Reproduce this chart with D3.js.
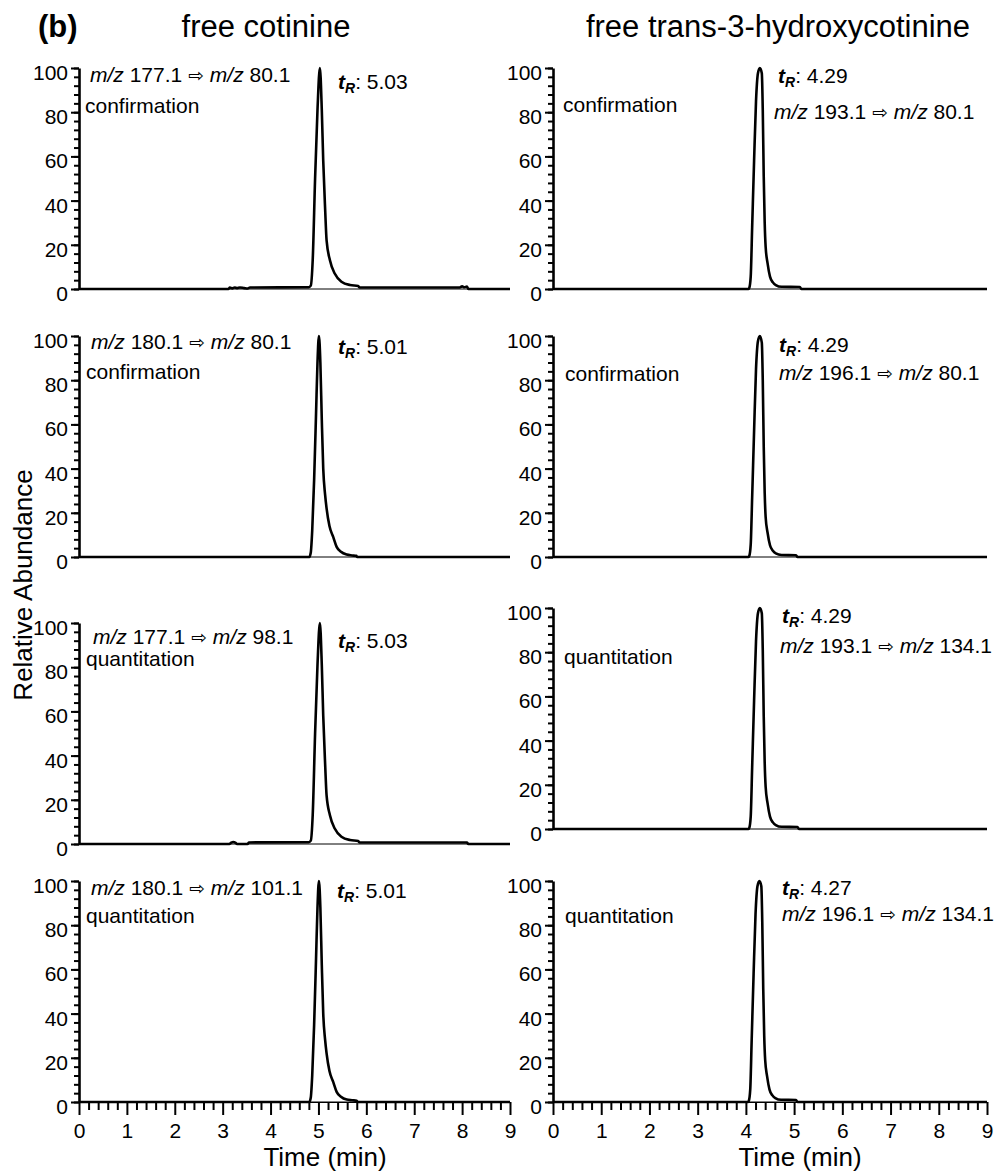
<!DOCTYPE html>
<html>
<head>
<meta charset="utf-8">
<script src="https://cdn.jsdelivr.net/npm/d3@7"></script>
<style>
  body { margin: 0; background: #fff; }
  svg text { font-family: "Liberation Sans", Arial, sans-serif; fill: #000; }
</style>
</head>
<body>
<svg id="chart"></svg>
<script>
// Chromatogram traces: [time (min), relative abundance (%)]
const cot177to80 = [[0,0],[3.12,0],[3.15,0.6],[3.2,0.3],[3.25,0.7],[3.3,0.4],[3.36,0.7],[3.45,0.4],[3.52,0.2],[3.57,0.7],[4.8,0.8],[4.84,1.5],[4.88,13],[4.93,50],[4.98,81],[5.03,100],[5.07,81],[5.1,58],[5.14,36],[5.17,22],[5.24,13],[5.34,7],[5.48,3.3],[5.66,1.8],[5.83,1.4],[5.86,0.7],[7.95,0.7],[8.0,1.2],[8.05,0.8],[8.1,1.1],[8.13,0],[9,0]];
const cot180to80 = [[0,0],[4.81,0],[4.84,2],[4.87,12],[4.91,35],[4.95,65],[4.98,88],[5.01,100],[5.04,88],[5.07,62],[5.1,40],[5.14,28],[5.17,22],[5.23,14],[5.31,9],[5.38,4.6],[5.47,2.4],[5.59,1.1],[5.7,0.7],[5.79,0.5],[5.81,0],[9,0]];
const cot177to98 = [[0,0],[3.14,0],[3.18,0.6],[3.22,0.9],[3.27,0.5],[3.3,0],[3.52,0],[3.55,0.7],[4.8,0.8],[4.84,1.5],[4.88,13],[4.93,50],[4.98,81],[5.03,100],[5.07,81],[5.1,58],[5.14,36],[5.17,22],[5.24,13],[5.34,7],[5.48,3.3],[5.66,1.8],[5.83,1.4],[5.86,0.7],[8.1,0.7],[8.13,0],[9,0]];
const cot180to101 = [[0,0],[4.81,0],[4.84,2],[4.87,12],[4.91,35],[4.95,65],[4.98,88],[5.01,100],[5.04,88],[5.07,62],[5.1,40],[5.14,28],[5.17,22],[5.23,14],[5.31,9],[5.38,4.6],[5.47,2.4],[5.59,1.1],[5.7,0.8],[5.8,0.6],[5.82,0],[9,0]];
const hc193to80 = [[0,0],[4.05,0],[4.07,0.5],[4.1,5.6],[4.13,28],[4.17,58],[4.21,85],[4.25,97.6],[4.29,100],[4.33,97.6],[4.35,81],[4.37,51],[4.39,30],[4.41,19],[4.45,11.6],[4.5,5.6],[4.56,3],[4.62,1.8],[4.74,1],[5.12,0.9],[5.15,0],[9,0]];
const hc196to80 = [[0,0],[4.05,0],[4.07,0.5],[4.1,5.6],[4.13,27],[4.17,57],[4.21,85],[4.25,97.6],[4.29,100],[4.33,97],[4.35,80],[4.37,50],[4.39,29],[4.41,18],[4.45,11],[4.5,5.3],[4.56,2.8],[4.62,1.6],[4.74,0.9],[5.04,0.8],[5.07,0],[9,0]];
const hc193to134 = [[0,0],[4.05,0],[4.07,0.5],[4.1,5.6],[4.13,28],[4.17,58],[4.21,85],[4.25,97.6],[4.29,100],[4.33,97.6],[4.35,81],[4.37,51],[4.39,30],[4.41,19],[4.45,11.6],[4.5,5.6],[4.56,3],[4.62,1.8],[4.74,1],[5.07,0.9],[5.1,0],[9,0]];
const hc196to134 = [[0,0],[4.04,0],[4.06,0.5],[4.09,5.6],[4.12,28],[4.16,58],[4.2,85],[4.24,97.6],[4.28,100],[4.32,97.6],[4.34,81],[4.36,51],[4.38,30],[4.4,19],[4.44,11.6],[4.49,5.6],[4.55,3],[4.61,1.8],[4.73,1],[5.04,0.9],[5.07,0],[9,0]];

const traces = [cot177to80, cot180to80, cot177to98, cot180to101, hc193to80, hc196to80, hc193to134, hc196to134];
const precursorIons = ["177.1", "180.1", "177.1", "180.1", "193.1", "196.1", "193.1", "196.1"];
const productIons = ["80.1", "80.1", "98.1", "101.1", "80.1", "80.1", "134.1", "134.1"];
const retentionTimes = ["5.03", "5.01", "5.03", "5.01", "4.29", "4.29", "4.29", "4.27"];
const modes = ["confirmation", "confirmation", "quantitation", "quantitation", "confirmation", "confirmation", "quantitation", "quantitation"];
const columnTitles = ["free cotinine", "free trans-3-hydroxycotinine"];
const timeTicks = [0, 1, 2, 3, 4, 5, 6, 7, 8, 9];
const abundanceTicks = [0, 20, 40, 60, 80, 100];

// Layout
const width = 1000;
const height = 1176;
const panelH = 221;
const colRange = [[79, 510], [553, 987]];
const rowTop = [[68, 336, 623, 881], [68, 336, 608, 881]];
const titleX = [266, 778];
const timeLabelX = [325, 800];
// annotation positions relative to panel top: [mzX, mzDy, modeX, modeDy, tRX, tRDy]
const labelPos = [
  [90, 14, 85, 45, 338, 21],
  [91, 13, 86, 43, 338, 18],
  [93, 21, 86, 43, 338, 25],
  [91, 14, 86, 42, 337, 17],
  [774, 51, 563, 44, 778, 15],
  [779, 44, 565, 45, 779, 16],
  [780, 45, 564, 56, 782, 15],
  [782, 40, 565, 42, 782, 14]
];

const svg = d3.select("#chart")
  .attr("width", width)
  .attr("height", height);

// Header
svg.append("text")
  .attr("x", 38).attr("y", 37)
  .attr("font-size", 31).attr("font-weight", "bold")
  .text("(b)");

svg.selectAll(".col-title")
  .data(columnTitles)
  .enter()
  .append("text")
  .attr("class", "col-title")
  .attr("x", (d, i) => titleX[i]).attr("y", 37)
  .attr("text-anchor", "middle")
  .attr("font-size", 31)
  .text(d => d);

svg.append("text")
  .attr("transform", "translate(32,585) rotate(-90)")
  .attr("text-anchor", "middle")
  .attr("font-size", 26)
  .text("Relative Abundance");

const line = d3.line().curve(d3.curveMonotoneX);

traces.forEach(function(trace, k) {
  const col = Math.floor(k / 4);
  const row = k % 4;
  const top = rowTop[col][row];

  const x = d3.scaleLinear().domain([0, 9]).range(colRange[col]);
  const y = d3.scaleLinear().domain([0, 100]).range([top + panelH, top]);

  const g = svg.append("g");

  // thin baseline
  g.append("line")
    .attr("x1", x(0)).attr("x2", x(9))
    .attr("y1", y(0)).attr("y2", y(0))
    .attr("stroke", "#000").attr("stroke-width", 1);

  // y axis: minor then major ticks
  const yMinor = g.append("g")
    .attr("transform", `translate(${x(0)},0)`)
    .call(d3.axisLeft(y).tickValues(d3.range(0, 101, 4)).tickSize(5).tickSizeOuter(0).tickFormat(""));
  yMinor.select(".domain").remove();
  yMinor.selectAll("line").attr("stroke-width", 2);

  const yAxis = g.append("g")
    .attr("transform", `translate(${x(0)},0)`)
    .call(d3.axisLeft(y).tickValues(abundanceTicks).tickSize(8).tickSizeOuter(0).tickPadding(3));
  yAxis.attr("font-size", 21).attr("font-family", null);
  yAxis.select(".domain").attr("stroke-width", 2.6);
  yAxis.selectAll(".tick line").attr("stroke-width", 2);
  yAxis.selectAll(".tick text").attr("dy", "0.55em");

  // x axis only on the bottom row
  if (row === 3) {
    const xMinor = g.append("g")
      .attr("transform", `translate(0,${y(0)})`)
      .call(d3.axisBottom(x).tickValues(d3.range(0, 46).map(i => i / 5).filter(v => v % 1 !== 0))
        .tickSize(8).tickSizeOuter(0).tickFormat(""));
    xMinor.select(".domain").remove();
    xMinor.selectAll("line").attr("stroke-width", 2);

    const xAxis = g.append("g")
      .attr("transform", `translate(0,${y(0)})`)
      .call(d3.axisBottom(x).tickValues(timeTicks).tickSize(13).tickSizeOuter(0).tickPadding(8).tickFormat(d3.format("d")));
    xAxis.attr("font-size", 21).attr("font-family", null);
    xAxis.select(".domain").attr("stroke-width", 1);
    xAxis.selectAll(".tick line").attr("stroke-width", 2);

    svg.append("text")
      .attr("x", timeLabelX[col]).attr("y", 1166)
      .attr("text-anchor", "middle")
      .attr("font-size", 26)
      .text("Time (min)");
  }

  // trace
  g.append("path")
    .attr("d", line(trace.map(p => [x(p[0]), y(p[1])])))
    .attr("fill", "none")
    .attr("stroke", "#000")
    .attr("stroke-width", 2.6)
    .attr("stroke-linejoin", "round");

  // annotations
  const pos = labelPos[k];
  const mz = g.append("text")
    .attr("x", pos[0]).attr("y", top + pos[1])
    .attr("font-size", 21);
  mz.append("tspan").attr("font-style", "italic").text("m/z");
  mz.append("tspan").text(" " + precursorIons[k] + " ");
  mz.append("tspan").attr("font-family", "DejaVu Sans").attr("font-size", 19).text("\u21E8");
  mz.append("tspan").text(" ");
  mz.append("tspan").attr("font-style", "italic").text("m/z");
  mz.append("tspan").text(" " + productIons[k]);

  g.append("text")
    .attr("x", pos[2]).attr("y", top + pos[3])
    .attr("font-size", 21)
    .text(modes[k]);

  const tr = g.append("text")
    .attr("x", pos[4]).attr("y", top + pos[5])
    .attr("font-size", 21);
  tr.append("tspan").attr("font-weight", "bold").attr("font-style", "italic").text("t");
  tr.append("tspan").attr("font-weight", "bold").attr("font-style", "italic")
    .attr("font-size", 14).attr("dy", 4).text("R");
  tr.append("tspan").attr("dy", -4).text(": " + retentionTimes[k]);
});
</script>
</body>
</html>
